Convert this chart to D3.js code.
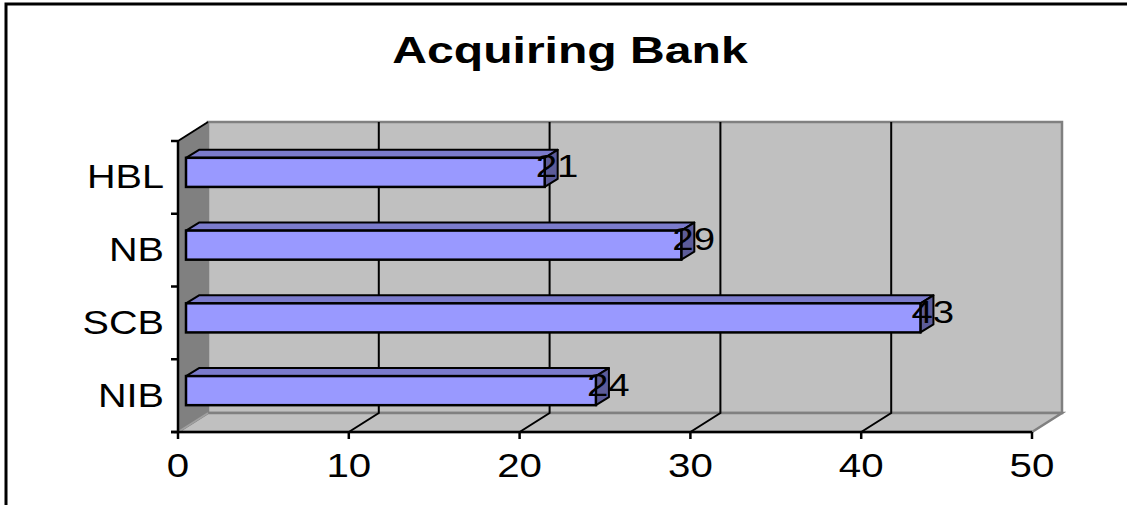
<!DOCTYPE html>
<html><head><meta charset="utf-8">
<script src="https://cdn.jsdelivr.net/npm/d3@7"></script>
<style>body{margin:0;background:#fff}svg{display:block}text{font-family:"Liberation Sans",Arial,sans-serif;fill:#000}</style>
</head><body>
<script>
const categories = ["HBL", "NB", "SCB", "NIB"];
const values = [21, 29, 43, 24];
const xTicks = [0, 10, 20, 30, 40, 50];
const title = "Acquiring Bank";

const W = 1127, H = 505;
const svg = d3.select("body").append("svg").attr("width", W).attr("height", H);

const x = d3.scaleLinear().domain([0, 50]).range([178, 1032]);
const y = d3.scaleBand().domain(categories).range([141, 432]);
const DX = 30, DY = -19;           // wall depth
const BX0 = 8, BY0 = -5, BX = 13, BY = -8; // bar depth offsets
const x0 = x(0), x1 = x(50), yT = y.range()[0], yB = y.range()[1];

// outer border
svg.append("path").attr("d", `M6,${H} V4 H${W}`).attr("fill", "none").attr("stroke", "#000").attr("stroke-width", 3);

// title
svg.append("text").attr("transform", "translate(570,63) scale(1.3,1)")
  .attr("text-anchor", "middle").attr("font-size", 37).attr("font-weight", "bold").text(title);

const poly = pts => "M" + pts.map(p => p.join(",")).join("L") + "Z";
// back wall
svg.append("path").attr("d", poly([[x0+DX, yT+DY], [x1+DX, yT+DY], [x1+DX, yB+DY], [x0+DX, yB+DY]]))
  .attr("fill", "#c0c0c0").attr("stroke", "#808080").attr("stroke-width", 2.5);
// floor
svg.append("path").attr("d", poly([[x0, yB], [x1, yB], [x1+DX, yB+DY], [x0+DX, yB+DY]]))
  .attr("fill", "#c0c0c0").attr("stroke", "#808080").attr("stroke-width", 2.5);
// side wall
svg.append("path").attr("d", poly([[x0, yT], [x0+DX, yT+DY], [x0+DX, yB+DY], [x0, yB]]))
  .attr("fill", "#808080").attr("stroke", "#808080").attr("stroke-width", 1);
svg.append("line").attr("x1", x0).attr("y1", yB).attr("x2", x0+DX).attr("y2", yB+DY).attr("stroke", "#a0a0a0").attr("stroke-width", 1.5);
svg.append("line").attr("x1", x0).attr("y1", yT).attr("x2", x0+DX).attr("y2", yT+DY).attr("stroke", "#000").attr("stroke-width", 2);

// gridlines
const inner = xTicks.filter(t => t > 0 && t < 50);
svg.selectAll(".grid").data(inner).join("path").attr("class", "grid")
  .attr("d", t => `M${x(t)},${yB} L${x(t)+DX},${yB+DY} V${yT+DY}`)
  .attr("fill", "none").attr("stroke", "#000").attr("stroke-width", 2);

// axes
svg.append("line").attr("x1", x0).attr("y1", yT).attr("x2", x0).attr("y2", yB).attr("stroke", "#000").attr("stroke-width", 2.5);
svg.append("line").attr("x1", x0 - 7).attr("y1", yB).attr("x2", x1).attr("y2", yB).attr("stroke", "#000").attr("stroke-width", 2.5);
svg.selectAll(".xt").data(xTicks).join("line").attr("class", "xt")
  .attr("x1", d => x(d)).attr("x2", d => x(d)).attr("y1", yB).attr("y2", yB + 7).attr("stroke", "#000").attr("stroke-width", 2.5);
const yTicks = categories.map(c => y(c)).concat([yB]);
svg.selectAll(".yt").data(yTicks).join("line").attr("class", "yt")
  .attr("x1", x0 - 7).attr("x2", x0).attr("y1", d => d).attr("y2", d => d).attr("stroke", "#000").attr("stroke-width", 2.5);

svg.selectAll(".xl").data(xTicks).join("text").attr("class", "xl")
  .attr("transform", d => `translate(${x(d)},477) scale(1.22,1)`)
  .attr("text-anchor", "middle").attr("font-size", 33).text(d => d);
svg.selectAll(".yl").data(categories).join("text").attr("class", "yl")
  .attr("transform", d => `translate(164,${y(d) + y.bandwidth()/2 + 11}) scale(1.2,1)`)
  .attr("text-anchor", "end").attr("font-size", 33).text(d => d);

// bars
const bh = y.bandwidth() * 0.4;
const data = categories.map((c, i) => ({c, v: values[i]}));
const g = svg.selectAll(".bar").data(data).join("g").attr("class", "bar");
const fy = d => y(d.c) + y.bandwidth()/2 + BY0 - bh/2;
g.append("path").attr("d", d => { const a = x0 + BX0, b = x(d.v) + BX0, t = fy(d);
  return poly([[a, t], [a+BX, t+BY], [b+BX, t+BY], [b, t]]); })
  .attr("fill", "#7b7bcc").attr("stroke", "#000").attr("stroke-width", 2).attr("stroke-linejoin", "round");
g.append("path").attr("d", d => { const b = x(d.v) + BX0, t = fy(d);
  return poly([[b, t], [b+BX, t+BY], [b+BX, t+BY+bh], [b, t+bh]]); })
  .attr("fill", "#5c5c99").attr("stroke", "#000").attr("stroke-width", 2).attr("stroke-linejoin", "round");
g.append("rect").attr("x", x0 + BX0).attr("y", fy).attr("width", d => x(d.v) - x0).attr("height", bh)
  .attr("fill", "#9999ff").attr("stroke", "#000").attr("stroke-width", 2.5);

// value labels
g.append("text").attr("transform", d => `translate(${x(d.v) - 1},${y(d.c) + y.bandwidth()/2}) scale(1.2,1)`)
  .attr("font-size", 32).text(d => d.v);
</script>
</body></html>
